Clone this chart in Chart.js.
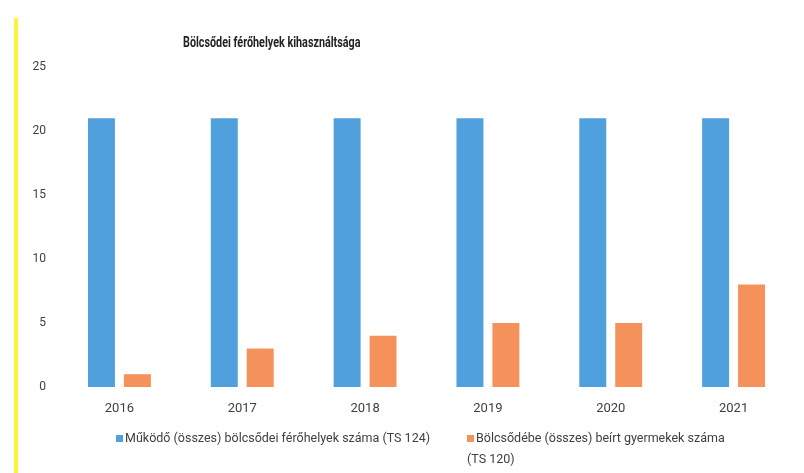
<!DOCTYPE html>
<html lang="hu">
<head>
<meta charset="utf-8">
<script src="https://cdn.jsdelivr.net/npm/chart.js@4"></script>
<style>
  html, body { margin: 0; padding: 0; background: #fff; }
  #wrap { position: relative; width: 804px; height: 473px; overflow: hidden; }
  #sav { position: absolute; left: 14px; top: 18px; width: 4px; height: 460px; background: #fbf43a; }
  #cim { position: absolute; left: 183px; top: 33px; font: bold 15px Roboto, sans-serif; color: #222;
         white-space: nowrap; transform: scaleX(0.72); transform-origin: left top; }
  .jelmagy { position: absolute; font: 12.5px Roboto, sans-serif; color: #404040; line-height: 21px; }
  .jelmagy .negyzet { display: inline-block; width: 7px; height: 7px; margin-right: 2px; }
  canvas { position: absolute; left: 0; top: 0; }
</style>
</head>
<body>
<div id="wrap">
  <canvas id="grafikon" width="804" height="473"></canvas>
  <div id="sav"></div>
  <div id="cim">Bölcsődei férőhelyek kihasználtsága</div>
  <div class="jelmagy" id="jm1" style="left:116px; top:427px;"></div>
  <div class="jelmagy" id="jm2" style="left:467px; top:427px; width:270px;"></div>
</div>
<script>
// Adatok
const evek = ['2016', '2017', '2018', '2019', '2020', '2021'];
const ferohelyek = [21, 21, 21, 21, 21, 21];
const beirtGyermekek = [1, 3, 4, 5, 5, 8];
const sorozatNevek = [
  'Működő (összes) bölcsődei férőhelyek száma (TS 124)',
  'Bölcsődébe (összes) beírt gyermekek száma (TS 120)'
];
const szinek = ['#4fa0dc', '#f5915a'];

// Saját jelmagyarázat (a második tétel két sorba tördelődik)
function jelmagyarazat(id, nev, szin) {
  document.getElementById(id).innerHTML =
    '<span class="negyzet" style="background:' + szin + '"></span>' + nev;
}
jelmagyarazat('jm1', sorozatNevek[0], szinek[0]);
jelmagyarazat('jm2', sorozatNevek[1], szinek[1]);

const betu = "Roboto, sans-serif";

const ctx = document.getElementById('grafikon').getContext('2d');
new Chart(ctx, {
  type: 'bar',
  data: {
    labels: evek,
    datasets: [{
      label: sorozatNevek[0],
      data: ferohelyek,
      backgroundColor: szinek[0],
      categoryPercentage: 0.585,
      barPercentage: 0.75
    }, {
      label: sorozatNevek[1],
      data: beirtGyermekek,
      backgroundColor: szinek[1],
      categoryPercentage: 0.585,
      barPercentage: 0.75
    }]
  },
  options: {
    responsive: false,
    animation: false,
    layout: { padding: { top: 67, right: 9, left: 0, bottom: 0 } },
    plugins: {
      legend: { display: false },
      title: { display: false },
      tooltip: { enabled: false }
    },
    scales: {
      x: {
        grid: { display: false, drawTicks: false },
        border: { display: false },
        ticks: { color: '#404040', font: { family: betu, size: 13 }, padding: 14 },
        afterFit: function(scale) { scale.height = 86; }
      },
      y: {
        min: 0,
        max: 25,
        grid: { display: false, drawTicks: false },
        border: { display: false },
        ticks: { stepSize: 5, color: '#404040', font: { family: betu, size: 12 }, padding: 12 },
        afterFit: function(scale) { scale.width = 58; }
      }
    }
  }
});
</script>
</body>
</html>
